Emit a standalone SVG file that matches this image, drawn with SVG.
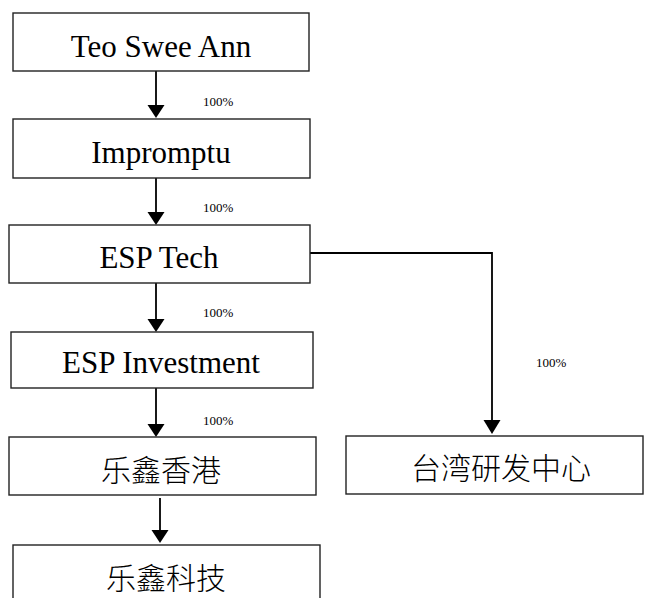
<svg xmlns="http://www.w3.org/2000/svg" width="645" height="598" viewBox="0 0 645 598">
<defs>
<style>
.box{fill:#fff;stroke:#222;stroke-width:1.4}
.en{font-family:"Liberation Serif","Times New Roman",serif;font-size:31px;fill:#000;text-anchor:middle}
.zh{font-family:"Liberation Serif","Noto Sans CJK SC",sans-serif;font-size:30px;fill:#000;text-anchor:middle;font-weight:300}
.pct{font-family:"Liberation Serif","Times New Roman",serif;font-size:13px;fill:#000}
.ln{fill:none;stroke:#000;stroke-width:1.8}
.ah{fill:#000}
</style>
</defs>
<rect width="645" height="598" fill="#fff"/>
<g id="connectors">
<line class="ln" x1="156" y1="71" x2="156" y2="106"/>
<polygon class="ah" points="147.5,105 164.5,105 156,118"/>
<line class="ln" x1="156" y1="178" x2="156" y2="213"/>
<polygon class="ah" points="147.5,212 164.5,212 156,225"/>
<line class="ln" x1="156" y1="283" x2="156" y2="320"/>
<polygon class="ah" points="147.5,319 164.5,319 156,332"/>
<line class="ln" x1="156" y1="388" x2="156" y2="425"/>
<polygon class="ah" points="147.5,424 164.5,424 156,437"/>
<line class="ln" x1="160" y1="498" x2="160" y2="531"/>
<polygon class="ah" points="151.5,530 168.5,530 160,543"/>
<polyline class="ln" points="310,253 492,253 492,422"/>
<polygon class="ah" points="483.5,420 500.5,420 492,434"/>
<text class="pct" x="203" y="106">100%</text>
<text class="pct" x="203" y="212">100%</text>
<text class="pct" x="203" y="317">100%</text>
<text class="pct" x="203" y="425">100%</text>
<text class="pct" x="536" y="367">100%</text>
</g>
<g id="teo"><rect class="box" x="13" y="13" width="296" height="58"/><text class="en" x="161" y="57">Teo Swee Ann</text></g>
<g id="impromptu"><rect class="box" x="13" y="119" width="297" height="59"/><text class="en" x="161" y="163">Impromptu</text></g>
<g id="esptech"><rect class="box" x="9" y="225" width="301" height="58"/><text class="en" x="159" y="268">ESP Tech</text></g>
<g id="espinv"><rect class="box" x="11" y="332" width="302" height="56"/><text class="en" x="161" y="373">ESP Investment</text></g>
<g id="lexinhk"><rect class="box" x="9" y="437" width="307" height="58"/><text class="zh" x="161" y="481">乐鑫香港</text></g>
<g id="lexintech"><rect class="box" x="13" y="545" width="307" height="60"/><text class="zh" x="166" y="589">乐鑫科技</text></g>
<g id="taiwan"><rect class="box" x="346" y="436" width="297" height="58"/><text class="zh" x="501" y="479">台湾研发中心</text></g>
</svg>
